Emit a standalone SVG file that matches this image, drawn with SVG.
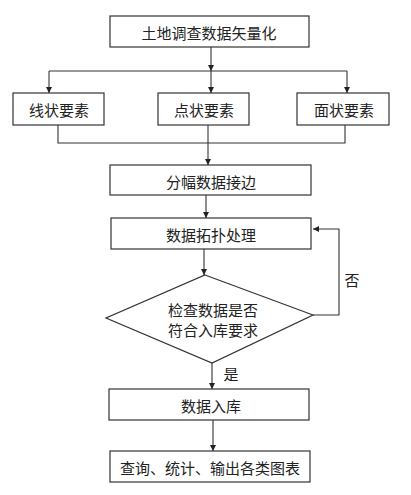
<svg xmlns="http://www.w3.org/2000/svg" width="411" height="495" viewBox="0 0 411 495">
<style>
.box{fill:#fff;stroke:#333;stroke-width:1.2}
.ln{fill:none;stroke:#333;stroke-width:1.1}
.t{font-family:"Noto Sans CJK SC","Noto Sans CJK JP",sans-serif;font-size:15px;fill:#222;text-anchor:middle;dominant-baseline:central}
</style>
<defs>
<marker id="ah" viewBox="0 0 8 8" refX="8" refY="4" markerWidth="6" markerHeight="6" markerUnits="userSpaceOnUse" orient="auto">
<path d="M0,0 L8,4 L0,8 Z" fill="#222"/>
</marker>
</defs>
<rect width="411" height="495" fill="#fff"/>
<g id="connectors">
<path class="ln" d="M211,47 V71" marker-end="url(#ah)"/>
<path class="ln" d="M49,71 H347"/>
<path class="ln" d="M49,71 V93" marker-end="url(#ah)"/>
<path class="ln" d="M211,71 V93" marker-end="url(#ah)"/>
<path class="ln" d="M347,71 V93" marker-end="url(#ah)"/>
<path class="ln" d="M58,125 V143 H345 V125"/>
<path class="ln" d="M208,125 V165" marker-end="url(#ah)"/>
<path class="ln" d="M206,195 V218" marker-end="url(#ah)"/>
<path class="ln" d="M204,249 V275" marker-end="url(#ah)"/>
<path class="ln" d="M313,315 H339 V229 H313" marker-end="url(#ah)"/>
<path class="ln" d="M212,363 V389" marker-end="url(#ah)"/>
<path class="ln" d="M213,420 V451" marker-end="url(#ah)"/>
<text class="t" x="352" y="279">否</text>
<text class="t" x="231" y="373">是</text>
</g>
<g id="n1"><rect class="box" x="110" y="16" width="199" height="31"/><text class="t" x="209" y="32">土地调查数据矢量化</text></g>
<g id="n2"><rect class="box" x="13" y="93" width="91" height="32"/><text class="t" x="59" y="109">线状要素</text></g>
<g id="n3"><rect class="box" x="158" y="93" width="91" height="32"/><text class="t" x="204" y="109">点状要素</text></g>
<g id="n4"><rect class="box" x="297" y="93" width="92" height="32"/><text class="t" x="344" y="109">面状要素</text></g>
<g id="n5"><rect class="box" x="110" y="165" width="201" height="30"/><text class="t" x="211" y="181">分幅数据接边</text></g>
<g id="n6"><rect class="box" x="111" y="218" width="200" height="31"/><text class="t" x="211" y="234">数据拓扑处理</text></g>
<g id="n7"><path class="box" d="M205,275 L313,315 L212,363 L106,318 Z"/><text class="t" x="213" y="309">检查数据是否</text><text class="t" x="213" y="329">符合入库要求</text></g>
<g id="n8"><rect class="box" x="109" y="389" width="200" height="31"/><text class="t" x="211" y="405">数据入库</text></g>
<g id="n9"><rect class="box" x="110" y="451" width="200" height="31"/><text class="t" x="210" y="467">查询、统计、输出各类图表</text></g>
</svg>
